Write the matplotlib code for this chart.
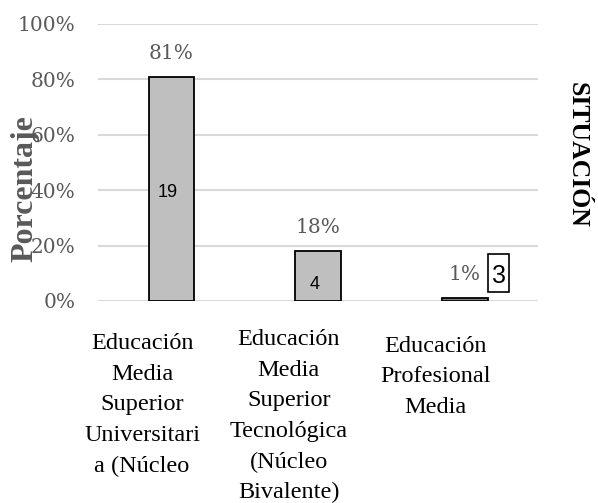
import matplotlib
matplotlib.use("Agg")
import matplotlib.pyplot as plt
from matplotlib.patches import Rectangle
from matplotlib.transforms import blended_transform_factory

categories = ["Educación\nMedia\nSuperior\nUniversitari\na (Núcleo",
              "Educación\nMedia\nSuperior\nTecnológica\n(Núcleo\nBivalente)",
              "Educación\nProfesional\nMedia"]
percentages = [0.81, 0.18, 0.01]
pct_labels = ["81%", "18%", "1%"]
counts = [19, 4, 3]
yticks = [0, 0.2, 0.4, 0.6, 0.8, 1.0]
ytick_labels = ["0%", "20%", "40%", "60%", "80%", "100%"]

serif = "Liberation Serif"
tickserif = "DejaVu Serif"
grey = "#595959"

fig = plt.figure(figsize=(5.98, 5.03), dpi=100)
ax = fig.add_axes([0.164, 0.4016, 0.736, 0.5507])

x = list(range(len(categories)))
fills = ["#BFBFBF", "#BFBFBF", "#7F7F7F"]
bars = ax.bar(x, percentages, width=0.31, color=fills, edgecolor="black", linewidth=1.3, zorder=3)

ax.set_xlim(-0.5, 2.5)
ax.set_ylim(0, 1.0)
ax.set_yticks(yticks)
ax.set_yticklabels(ytick_labels, fontfamily=tickserif, fontsize=14.5, color=grey)
ax.tick_params(axis="y", length=0, pad=16.5)
ax.set_xticks([])
for s in ax.spines.values():
    s.set_visible(False)
ax.grid(axis="y", color="#D9D9D9", linewidth=1.5, zorder=0)

# percentage labels
for i, (p, lab) in enumerate(zip(percentages, pct_labels)):
    ax.text(i, p + 0.085, lab, ha="center", va="center", fontfamily=tickserif,
            fontsize=14.5, color=grey)

# count labels
ax.text(0 - 0.025, 0.393, str(counts[0]), ha="center", va="center",
        fontfamily="Liberation Sans", fontsize=13, color="black", zorder=4)
ax.text(1 - 0.025, 0.058, str(counts[1]), ha="center", va="center",
        fontfamily="Liberation Sans", fontsize=13, color="black", zorder=4)
ax.add_patch(Rectangle((2.23 - 0.072, 0.032), 0.144, 0.138, facecolor="white",
                       edgecolor="black", linewidth=1.2, zorder=4))
ax.text(2.23, 0.09, str(counts[2]), ha="center", va="center",
        fontfamily="Liberation Sans", fontsize=18, color="black", zorder=5)

# category labels
tr = blended_transform_factory(ax.transData, ax.transAxes)
tops = [-0.1155, -0.101, -0.126]
for i, (cat, t) in enumerate(zip(categories, tops)):
    ax.text(i - 0.2, t, cat, transform=tr, ha="center", va="top", fontfamily=serif,
            fontsize=17.5, color="black", linespacing=1.6)

# axis titles
fig.text(25 / 598, 1 - 189 / 503, "Porcentaje", rotation=90, ha="center", va="center",
         fontfamily=serif, fontsize=23, fontweight="bold", color=grey)
fig.text(577 / 598, 1 - 155 / 503, "SITUACIÓN", rotation=-90, ha="center", va="center",
         fontfamily=serif, fontsize=18.5, fontweight="bold", color="black")

fig.savefig("out.png", dpi=100)
